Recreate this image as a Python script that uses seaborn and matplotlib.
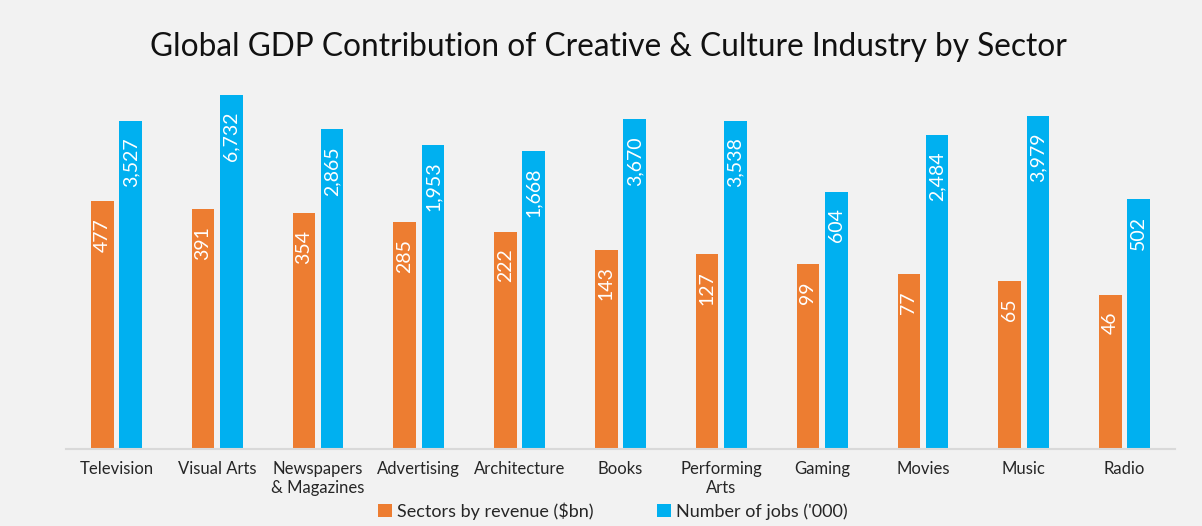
import matplotlib
matplotlib.use("Agg")
import matplotlib.pyplot as plt
import seaborn as sns
import pandas as pd
from matplotlib.patches import Patch

categories = ["Television", "Visual Arts", "Newspapers\n& Magazines", "Advertising",
              "Architecture", "Books", "Performing\nArts", "Gaming", "Movies", "Music", "Radio"]
revenue = [477, 391, 354, 285, 222, 143, 127, 99, 77, 65, 46]
jobs = [3527, 6732, 2865, 1953, 1668, 3670, 3538, 604, 2484, 3979, 502]
series_names = ["Sectors by revenue ($bn)", "Number of jobs ('000)"]
colors = ["#ED7D31", "#00B0F0"]

sns.set_theme(style="white")
plt.rcParams['font.family'] = ['Lato', 'DejaVu Sans']

df = pd.DataFrame({
    "category": categories * 2,
    "value": revenue + jobs,
    "series": [series_names[0]] * len(categories) + [series_names[1]] * len(categories),
})

bg = "#F2F2F2"
fig = plt.figure(figsize=(12.02, 5.26), dpi=100, facecolor=bg)
ax = fig.add_axes([0.0549, 0.1464, 0.9226, 0.7034])
ax.set_facecolor(bg)

sns.barplot(data=df, x="category", y="value", hue="series", palette=colors,
            width=0.56, gap=0.2, ax=ax, legend=False, saturation=1, linewidth=0)
ax.set_yscale("log")
ax.set_ylim(1, 10**4)
ax.set_xlim(-0.5, len(categories) - 0.5)

for container in ax.containers:
    for bar in container:
        h = bar.get_height()
        x = bar.get_x() + bar.get_width() / 2
        ax.annotate(f"{int(round(h)):,}", (x, h), xytext=(0, -12), textcoords="offset points",
                    ha="center", va="top", rotation=90, color="white", fontsize=14)

for s in ["top", "right", "left"]:
    ax.spines[s].set_visible(False)
ax.spines["bottom"].set_color("#D9D9D9")
ax.spines["bottom"].set_linewidth(1.5)
ax.set_yticks([])
ax.minorticks_off()
ax.set_yticks([], minor=True)
ax.set_xlabel("")
ax.set_ylabel("")
ax.tick_params(axis="x", length=0, pad=9, labelsize=12, labelcolor="#262626")
ax.grid(False)

fig.suptitle("Global GDP Contribution of Creative & Culture Industry by Sector",
             x=0.506, y=0.911, fontsize=22.8, color="#111111", va="center")

handles = [Patch(facecolor=c, edgecolor="none") for c in colors]
fig.legend(handles, series_names, loc="center", bbox_to_anchor=(0.51, 0.028), ncol=2,
           frameon=False, fontsize=13, handlelength=0.75, handleheight=0.75,
           handletextpad=0.3, columnspacing=3.5, labelcolor="#262626")

fig.savefig("out.png", dpi=100, facecolor=bg)
